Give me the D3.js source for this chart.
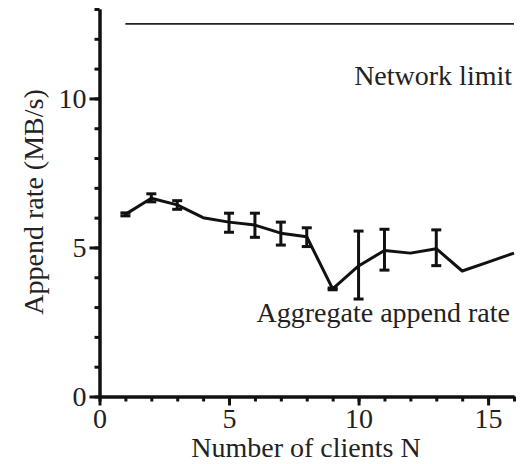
<!DOCTYPE html>
<html>
<head>
<meta charset="utf-8">
<script src="https://cdn.jsdelivr.net/npm/d3@7"></script>
<style>
  body { margin: 0; background: #fff; }
  svg text { font-family: "Liberation Serif", "Times New Roman", serif; fill: #222; }
  .axis path, .axis line { stroke: #111; stroke-width: 3; }
</style>
</head>
<body>
<svg id="chart" width="522" height="464"></svg>
<script>
// number of clients
var clients = [1, 2, 3, 4, 5, 6, 7, 8, 9, 10, 11, 12, 13, 14, 15, 16];
// aggregate append rate, MB/s
var rate    = [6.11, 6.65, 6.43, 6.0, 5.85, 5.75, 5.48, 5.36, 3.61, 4.38, 4.9, 4.81, 4.96, 4.21, 4.51, 4.81];
var errLow  = [6.06, 6.53, 6.28, 6.0, 5.51, 5.34, 5.08, 5.03, 3.58, 3.27, 4.24, 4.81, 4.39, 4.21, 4.51, 4.81];
var errHigh = [6.16, 6.80, 6.57, 6.0, 6.15, 6.15, 5.85, 5.66, 3.64, 5.55, 5.61, 4.81, 5.59, 4.21, 4.51, 4.81];
var networkLimit = 12.5;

var xMajor = [0, 5, 10, 15];
var yMajor = [0, 5, 10];

var svg = d3.select('#chart');

var x = d3.scaleLinear().domain([0, 16]).range([99.5, 514]);
var y = d3.scaleLinear().domain([0, 13]).range([396.5, 9]);

// minor ticks first, then major ticks with labels on top
svg.append('g')
  .attr('class', 'axis')
  .attr('transform', 'translate(0,' + y(0) + ')')
  .call(d3.axisBottom(x).tickValues(d3.range(0, 17)).tickSize(5).tickSizeOuter(0).tickFormat(''));

svg.append('g')
  .attr('class', 'axis')
  .attr('transform', 'translate(0,' + y(0) + ')')
  .call(d3.axisBottom(x).tickValues(xMajor).tickSize(9).tickSizeOuter(0).tickPadding(3))
  .call(function(g) {
    g.selectAll('text').attr('font-size', 28).attr('dy', '0.7em').style('font-family', null);
  });

svg.append('g')
  .attr('class', 'axis')
  .attr('transform', 'translate(' + x(0) + ',0)')
  .call(d3.axisLeft(y).tickValues(d3.range(0, 14)).tickSize(5).tickSizeOuter(0).tickFormat(''));

svg.append('g')
  .attr('class', 'axis')
  .attr('transform', 'translate(' + x(0) + ',0)')
  .call(d3.axisLeft(y).tickValues(yMajor).tickSize(10).tickSizeOuter(0).tickPadding(3))
  .call(function(g) {
    g.selectAll('text').attr('font-size', 28).attr('dy', '0.33em').style('font-family', null);
  });

// network limit
svg.append('line')
  .attr('x1', x(1)).attr('x2', x(16))
  .attr('y1', y(networkLimit)).attr('y2', y(networkLimit))
  .attr('stroke', '#222').attr('stroke-width', 1.6);

svg.append('text')
  .attr('x', 512).attr('y', 85)
  .attr('text-anchor', 'end')
  .attr('font-size', 28)
  .text('Network limit');

// aggregate append rate
var pts = clients.map(function(c, i) {
  return { n: c, v: rate[i], lo: errLow[i], hi: errHigh[i] };
});

svg.append('path')
  .datum(pts)
  .attr('fill', 'none')
  .attr('stroke', '#111')
  .attr('stroke-width', 3)
  .attr('stroke-linejoin', 'round')
  .attr('d', d3.line().x(function(d) { return x(d.n); }).y(function(d) { return y(d.v); }));

var bars = svg.append('g')
  .selectAll('g')
  .data(pts.filter(function(d) { return d.hi > d.lo; }))
  .enter().append('g')
  .attr('stroke', '#111')
  .attr('stroke-width', 3);

bars.append('line')
  .attr('x1', function(d) { return x(d.n); })
  .attr('x2', function(d) { return x(d.n); })
  .attr('y1', function(d) { return y(d.lo); })
  .attr('y2', function(d) { return y(d.hi); });

bars.selectAll('line.cap')
  .data(function(d) { return [[d.n, d.lo], [d.n, d.hi]]; })
  .enter().append('line')
  .attr('class', 'cap')
  .attr('x1', function(d) { return x(d[0]) - 5; })
  .attr('x2', function(d) { return x(d[0]) + 5; })
  .attr('y1', function(d) { return y(d[1]); })
  .attr('y2', function(d) { return y(d[1]); });

svg.append('text')
  .attr('x', 510).attr('y', 322)
  .attr('text-anchor', 'end')
  .attr('font-size', 28)
  .text('Aggregate append rate');

// axis titles
svg.append('text')
  .attr('x', 306).attr('y', 457)
  .attr('text-anchor', 'middle')
  .attr('font-size', 28)
  .text('Number of clients N');

svg.append('text')
  .attr('transform', 'translate(43,202) rotate(-90)')
  .attr('text-anchor', 'middle')
  .attr('font-size', 28)
  .text('Append rate (MB/s)');
</script>
</body>
</html>
